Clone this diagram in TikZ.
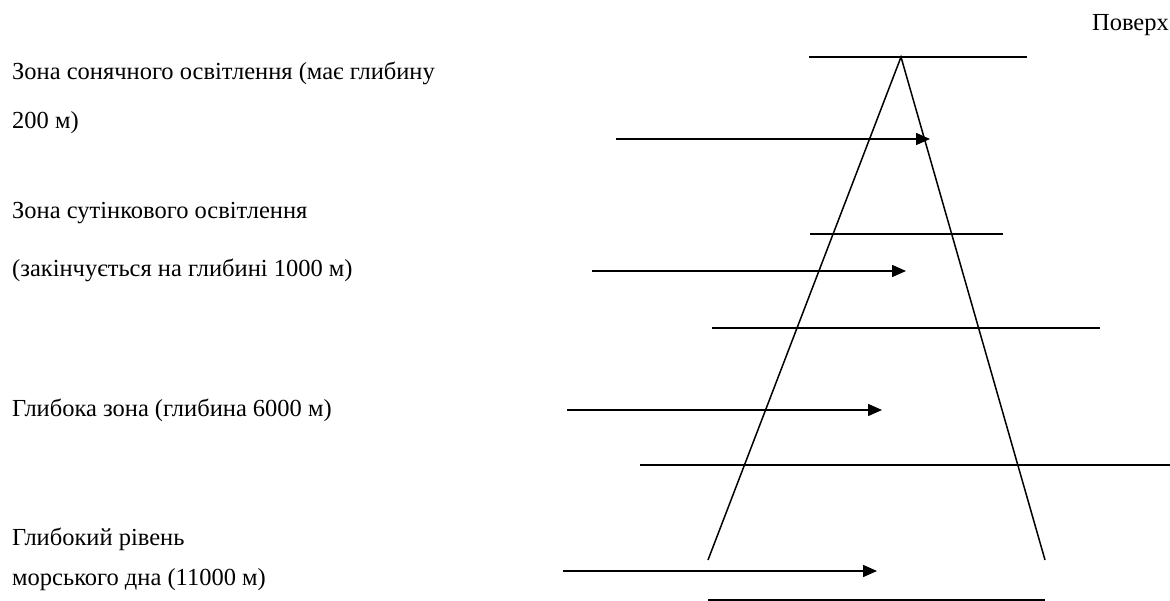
\documentclass[tikz,border=0pt]{standalone}
\usepackage{fontspec}
\setmainfont{Liberation Serif}
\usetikzlibrary{arrows.meta}

\begin{document}
\begin{tikzpicture}[x=1pt, y=-1pt,
		zone/.style={anchor=west, inner sep=0pt, font=\fontsize{24.5}{28}\selectfont},
		level/.style={line width=1.5pt},
		ray/.style={line width=1.5pt, -{Triangle[length=14pt, width=12pt]}}]
		\useasboundingbox (0, 0) rectangle (1170, 601);
		\clip (0, 0) rectangle (1170, 601);

		% labels on the left
		\node [zone] (sun1) at (12, 73) {Зона сонячного освітлення (має глибину};
		\node [zone] (sun2) at (12, 123) {200 м)};
		\node [zone] (twi1) at (12, 213) {Зона сутінкового освітлення};
		\node [zone] (twi2) at (12, 270) {(закінчується на глибині 1000 м)};
		\node [zone] (deep) at (12, 410) {Глибока зона (глибина 6000 м)};
		\node [zone] (bed1) at (12, 539) {Глибокий рівень};
		\node [zone] (bed2) at (12, 580) {морського дна (11000 м)};
		\node [zone, anchor=east] (surf) at (1169, 25) {Поверх};

		% the cone and its levels
		\coordinate (apex) at (901, 57);
		\coordinate (footL) at (708, 560);
		\coordinate (footR) at (1045, 560);
		\draw [level] (footL) -- (apex) -- (footR);
		\draw [level] (809, 57) -- (1027, 57);
		\draw [level] (810, 234) -- (1003, 234);
		\draw [level] (712, 328) -- (1100, 328);
		\draw [level] (640, 465) -- (1175, 465);
		\draw [level] (708, 600) -- (1045, 600);

		% arrows into the cone
		\coordinate (a1) at (616, 139);
		\coordinate (b1) at (930, 139);
		\coordinate (a2) at (592, 271);
		\coordinate (b2) at (906, 271);
		\coordinate (a3) at (567, 410);
		\coordinate (b3) at (882, 410);
		\coordinate (a4) at (563, 571);
		\coordinate (b4) at (877, 571);
		\foreach \i in {1,...,4}
			\draw [ray] (a\i) -- (b\i);
	\end{tikzpicture}
\end{document}
